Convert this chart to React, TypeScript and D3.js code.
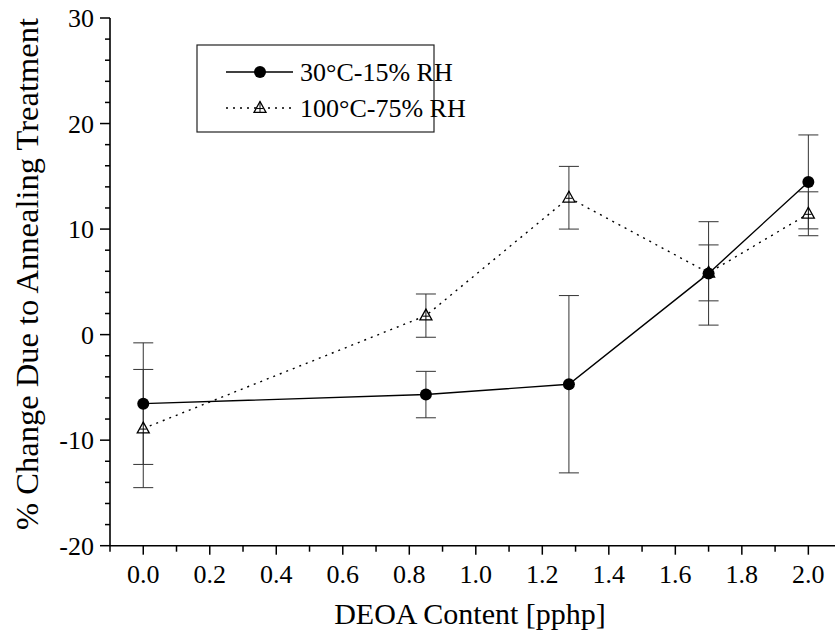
import React from "react";
import * as d3 from "d3";

const xValues = [0, 0.85, 1.28, 1.7, 2.0];
const series1Label = "30°C-15% RH";
const series1 = [-6.54, -5.68, -4.7, 5.8, 14.47];
const series1Err = [5.76, 2.2, 8.4, 4.9, 4.45];
const series2Label = "100°C-75% RH";
const series2 = [-8.9, 1.8, 12.97, 5.85, 11.45];
const series2Err = [5.6, 2.05, 2.97, 2.65, 2.08];
const xTicks = [0, 0.2, 0.4, 0.6, 0.8, 1.0, 1.2, 1.4, 1.6, 1.8, 2.0];
const xMinorTicks = [-0.1, 0.1, 0.3, 0.5, 0.7, 0.9, 1.1, 1.3, 1.5, 1.7, 1.9, 2.1];
const yTicks = [-20, -10, 0, 10, 20, 30];
const yMinorTicks = [-18, -16, -14, -12, -8, -6, -4, -2, 2, 4, 6, 8, 12, 14, 16, 18, 22, 24, 26, 28];
const xTitle = "DEOA Content [pphp]";
const yTitle = "% Change Due to Annealing Treatment";

function Triangle({ cx, cy, s = 6 }: { cx: number; cy: number; s?: number }) {
  const h = s * 1.8;
  const top = cy - h * 0.6;
  const bot = cy + h * 0.4;
  return (
    <g fill="white" stroke="black" strokeWidth={1.3}>
      <path d={`M${cx},${top} L${cx + s},${bot} L${cx - s},${bot} Z`} />
      <line x1={cx} x2={cx} y1={top} y2={bot} strokeWidth={1} />
      <line x1={cx - s * 0.55} x2={cx + s * 0.55} y1={cy + h * 0.05} y2={cy + h * 0.05} strokeWidth={1} />
    </g>
  );
}

export default function App() {
  const W = 835, H = 638;
  const x = d3.scaleLinear().domain([-0.1, 2.1]).range([110, 841.6]);
  const y = d3.scaleLinear().domain([-20, 30]).range([545.7, 18]);
  const x0 = x(-0.1);
  const yB = y(-20);

  const line = d3.line<number>().x((_, i) => x(xValues[i])).y((d) => y(d));

  const errBars = (vals: number[], errs: number[], key: string) =>
    vals.map((v, i) => {
      const cx = x(xValues[i]);
      const t = y(v + errs[i]);
      const b = y(v - errs[i]);
      return (
        <g key={key + i} stroke="#333" strokeWidth={1}>
          <line x1={cx} x2={cx} y1={t} y2={b} />
          <line x1={cx - 10} x2={cx + 10} y1={t} y2={t} />
          <line x1={cx - 10} x2={cx + 10} y1={b} y2={b} />
        </g>
      );
    });

  return (
    <svg width={W} height={H} style={{ position: "absolute", left: 0, top: 0, background: "white" }}>
      <rect width={W} height={H} fill="white" />
      {/* axes */}
      <line x1={x0} x2={x0} y1={y(30)} y2={yB} stroke="black" strokeWidth={1.6} />
      <line x1={x0} x2={W + 5} y1={yB} y2={yB} stroke="black" strokeWidth={1.6} />
      {yTicks.map((t) => (
        <g key={"yt" + t}>
          <line x1={x0 - 10} x2={x0} y1={y(t)} y2={y(t)} stroke="black" strokeWidth={1.5} />
          <text x={94} y={y(t)} dy="0.35em" textAnchor="end" fontSize={26}>{t}</text>
        </g>
      ))}
      {yMinorTicks.map((t) => (
        <line key={"ym" + t} x1={x0 - 5} x2={x0} y1={y(t)} y2={y(t)} stroke="black" strokeWidth={1.5} />
      ))}
      {xTicks.map((t) => (
        <g key={"xt" + t}>
          <line x1={x(t)} x2={x(t)} y1={yB} y2={yB + 9} stroke="black" strokeWidth={1.5} />
          <text x={x(t)} y={583} textAnchor="middle" fontSize={26}>{t.toFixed(1)}</text>
        </g>
      ))}
      {xMinorTicks.map((t) => (
        <line key={"xm" + t} x1={x(t)} x2={x(t)} y1={yB} y2={yB + 6} stroke="black" strokeWidth={1.5} />
      ))}
      <text x={470} y={624} textAnchor="middle" fontSize={30}>{xTitle}</text>
      <text transform={`translate(38,274) rotate(-90)`} textAnchor="middle" fontSize={32.5}>{yTitle}</text>

      {/* error bars */}
      {errBars(series1, series1Err, "e1")}
      {errBars(series2, series2Err, "e2")}

      {/* lines */}
      <path d={line(series2) || ""} fill="none" stroke="black" strokeWidth={1.4} strokeDasharray="2,5" />
      <path d={line(series1) || ""} fill="none" stroke="black" strokeWidth={1.4} />

      {series2.map((v, i) => (
        <Triangle key={"t" + i} cx={x(xValues[i])} cy={y(v)} />
      ))}
      {series1.map((v, i) => (
        <circle key={"c" + i} cx={x(xValues[i])} cy={y(v)} r={6} fill="black" />
      ))}

      {/* legend */}
      <rect x={197} y={45} width={237} height={87} fill="white" stroke="#222" strokeWidth={1.2} />
      <line x1={226} x2={293} y1={72} y2={72} stroke="black" strokeWidth={1.4} />
      <circle cx={260} cy={72} r={6} fill="black" />
      <text x={300} y={72} dy="0.35em" fontSize={26}>{series1Label}</text>
      <line x1={226} x2={293} y1={108} y2={108} stroke="black" strokeWidth={1.4} strokeDasharray="2,5" />
      <Triangle cx={260} cy={108} />
      <text x={300} y={108} dy="0.35em" fontSize={26}>{series2Label}</text>
    </svg>
  );
}
